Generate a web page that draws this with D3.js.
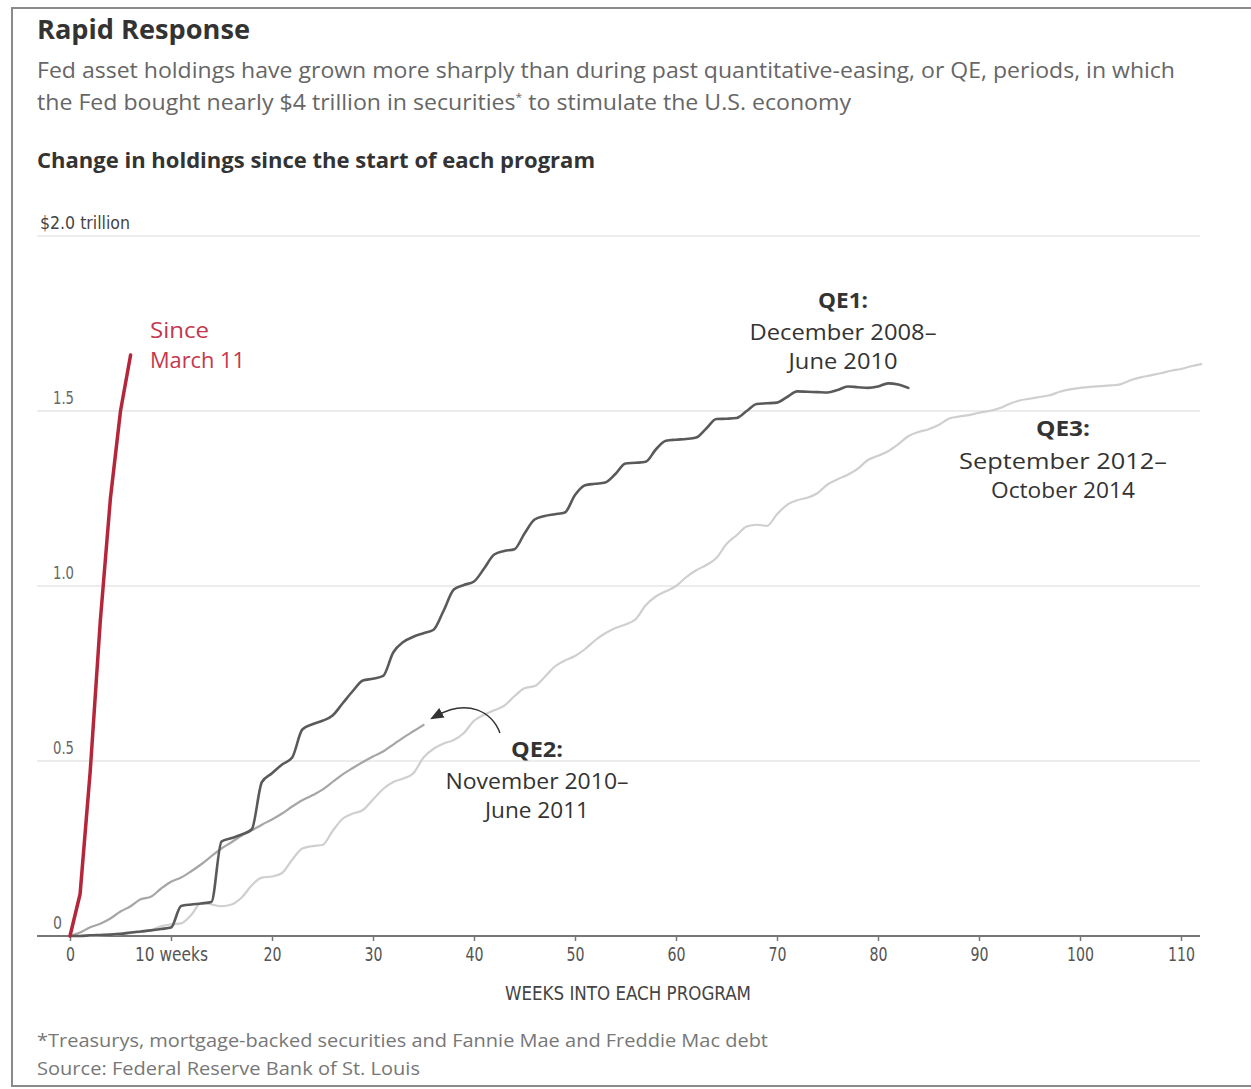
<!DOCTYPE html>
<html>
<head>
<meta charset="utf-8">
<script src="https://cdn.jsdelivr.net/npm/d3@7"></script>
<style>
  html, body { margin: 0; padding: 0; background: #fff; }
  svg { display: block; }
</style>
</head>
<body>
<svg id="chart" width="1251" height="1089"></svg>
<script>
// ---------- DATA (values indexed by week number) ----------
const sinceMarch11 = [0, 0.12, 0.47, 0.9, 1.25, 1.5, 1.66];

const qe1 = [0, 0, 0.002, 0.003, 0.004, 0.006, 0.01, 0.013, 0.016, 0.02,
  0.024, 0.086, 0.09, 0.093, 0.097, 0.27, 0.28, 0.29, 0.305, 0.44,
  0.465, 0.49, 0.51, 0.59, 0.605, 0.615, 0.63, 0.665, 0.7, 0.73,
  0.735, 0.743, 0.81, 0.84, 0.855, 0.865, 0.875, 0.93, 0.99, 1.003,
  1.013, 1.05, 1.09, 1.1, 1.105, 1.15, 1.19, 1.2, 1.205, 1.21,
  1.26, 1.288, 1.292, 1.296, 1.32, 1.35, 1.352, 1.355, 1.39, 1.415,
  1.418, 1.42, 1.424, 1.45, 1.477, 1.478, 1.48, 1.5, 1.52, 1.522,
  1.524, 1.54, 1.556, 1.555, 1.554, 1.553, 1.56, 1.57, 1.568, 1.566,
  1.57, 1.579, 1.576, 1.566];

const qe2 = [0, 0.01, 0.025, 0.035, 0.05, 0.07, 0.085, 0.105, 0.112, 0.135,
  0.155, 0.167, 0.185, 0.205, 0.228, 0.25, 0.268, 0.287, 0.302, 0.318,
  0.333, 0.35, 0.37, 0.388, 0.402, 0.418, 0.44, 0.462, 0.48, 0.497,
  0.513, 0.527, 0.547, 0.567, 0.585, 0.603];

const qe3 = [0, 0, 0, 0.002, 0.003, 0.005, 0.008, 0.012, 0.016, 0.028,
  0.033, 0.036, 0.06, 0.095, 0.09, 0.085, 0.09, 0.11, 0.145, 0.167,
  0.17, 0.18, 0.218, 0.25, 0.257, 0.26, 0.3, 0.335, 0.35, 0.36,
  0.39, 0.42, 0.44, 0.45, 0.465, 0.51, 0.535, 0.55, 0.56, 0.58,
  0.615, 0.632, 0.645, 0.658, 0.685, 0.708, 0.714, 0.74, 0.77, 0.787,
  0.8, 0.82, 0.845, 0.865, 0.88, 0.89, 0.905, 0.945, 0.97, 0.985,
  1.0, 1.025, 1.045, 1.06, 1.08, 1.12, 1.145, 1.17, 1.175, 1.172,
  1.205, 1.232, 1.245, 1.252, 1.265, 1.29, 1.305, 1.318, 1.335, 1.36,
  1.372, 1.385, 1.405, 1.428, 1.44, 1.448, 1.46, 1.478, 1.484, 1.488,
  1.495, 1.5, 1.508, 1.52, 1.53, 1.535, 1.54, 1.545, 1.555, 1.562,
  1.566, 1.569, 1.571, 1.573, 1.576, 1.588, 1.596, 1.602, 1.608, 1.615,
  1.62, 1.628, 1.634];

const xTicks = [0, 10, 20, 30, 40, 50, 60, 70, 80, 90, 100, 110];
const xTickLabels = ["0", "10 weeks", "20", "30", "40", "50", "60", "70", "80", "90", "100", "110"];
const yTicks = [0, 0.5, 1.0, 1.5, 2.0];
const yTickLabels = ["0", "0.5", "1.0", "1.5", "$2.0 trillion"];

// ---------- LAYOUT ----------
const svg = d3.select("#chart");
const narrow = "'Liberation Sans Narrow', 'DejaVu Sans Condensed', 'Roboto Condensed', sans-serif";
const sans = "'Open Sans', 'Noto Sans', 'Lato', sans-serif";

const x = d3.scaleLinear().domain([0, 110]).range([70, 1181]);
const y = d3.scaleLinear().domain([0, 2]).range([936, 236]);
const gridLeft = 37, gridRight = 1200;

// frame
svg.append("rect").attr("x", 12).attr("y", 8).attr("width", 1260).attr("height", 1078)
  .attr("fill", "none").attr("stroke", "#8a8a8a").attr("stroke-width", 2);

// Titles
svg.append("text").attr("x", 37).attr("y", 39)
  .attr("font-family", sans).attr("font-weight", 700).attr("font-size", 26)
  .attr("fill", "#333").attr("textLength", 213).attr("lengthAdjust", "spacingAndGlyphs")
  .text("Rapid Response");

svg.append("text").attr("x", 37).attr("y", 78)
  .attr("font-family", sans).attr("font-size", 21).attr("fill", "#666")
  .attr("textLength", 1138).attr("lengthAdjust", "spacingAndGlyphs")
  .text("Fed asset holdings have grown more sharply than during past quantitative-easing, or QE, periods, in which");

const sub2 = svg.append("text").attr("x", 37).attr("y", 110)
  .attr("font-family", sans).attr("font-size", 21).attr("fill", "#666");
sub2.append("tspan").text("the Fed bought nearly $4 trillion in securities");
sub2.append("tspan").attr("font-size", 11).attr("dy", -9).text("*");
sub2.append("tspan").attr("dy", 9).text(" to stimulate the U.S. economy");
sub2.attr("textLength", 814).attr("lengthAdjust", "spacingAndGlyphs");

svg.append("text").attr("x", 37).attr("y", 168)
  .attr("font-family", sans).attr("font-weight", 700).attr("font-size", 21)
  .attr("fill", "#333").attr("textLength", 558).attr("lengthAdjust", "spacingAndGlyphs")
  .text("Change in holdings since the start of each program");

// Gridlines
svg.append("g").selectAll("line").data(yTicks.filter(d => d > 0)).join("line")
  .attr("x1", gridLeft).attr("x2", gridRight)
  .attr("y1", d => y(d)).attr("y2", d => y(d))
  .attr("stroke", "#e6e6e6").attr("stroke-width", 1.5);

// Y labels
svg.append("g").selectAll("text").data(yTicks).join("text")
  .attr("x", (d, i) => i === yTicks.length - 1 ? 40 : 53)
  .attr("y", d => y(d) - 7)
  .attr("font-family", narrow).attr("font-size", 18)
  .attr("fill", (d, i) => i === yTicks.length - 1 ? "#444" : "#666")
  .each(function (d, i) {
    const t = d3.select(this).text(yTickLabels[i]);
    const L = yTickLabels[i];
    t.attr("textLength", i === yTicks.length - 1 ? 90 : (L.length === 1 ? 9 : 21))
     .attr("lengthAdjust", "spacingAndGlyphs");
  });

// X axis
const xAxis = d3.axisBottom(x).tickValues(xTicks).tickSize(5)
  .tickFormat((d, i) => xTickLabels[i]);
const gx = svg.append("g").attr("transform", `translate(0,${y(0)})`).call(xAxis);
gx.select(".domain").remove();
gx.selectAll(".tick line").attr("stroke", "#777").attr("stroke-width", 1.5);
gx.selectAll(".tick text").attr("font-family", narrow).attr("font-size", 19)
  .attr("fill", "#555").attr("y", 12).attr("dy", "0.71em")
  .attr("textLength", (d, i) => xTickLabels[i] === "10 weeks" ? 73 : 9 * xTickLabels[i].length)
  .attr("lengthAdjust", "spacingAndGlyphs");
svg.append("line").attr("x1", gridLeft).attr("x2", gridRight)
  .attr("y1", y(0)).attr("y2", y(0)).attr("stroke", "#777").attr("stroke-width", 2);

svg.append("text").attr("x", 628).attr("y", 1000).attr("text-anchor", "middle")
  .attr("font-family", narrow).attr("font-size", 19).attr("fill", "#444")
  .attr("textLength", 246).attr("lengthAdjust", "spacingAndGlyphs")
  .text("WEEKS INTO EACH PROGRAM");

// Lines
const line = d3.line().x((d, i) => x(i)).y(d => y(d)).curve(d3.curveMonotoneX);
const lineStraight = d3.line().x((d, i) => x(i)).y(d => y(d));
const g = svg.append("g").attr("fill", "none").attr("stroke-linejoin", "round").attr("stroke-linecap", "round");
g.append("path").datum(qe3).attr("d", line).attr("stroke", "#cfcfcf").attr("stroke-width", 2.2);
g.append("path").datum(qe2).attr("d", line).attr("stroke", "#a6a6a6").attr("stroke-width", 2.2);
g.append("path").datum(qe1).attr("d", line).attr("stroke", "#5a5a5a").attr("stroke-width", 2.6);
g.append("path").datum(sinceMarch11).attr("d", lineStraight).attr("stroke", "#b5263b").attr("stroke-width", 3.5);

// Labels
function label(lines, cx, baselines, widths, color, anchor) {
  lines.forEach((t, i) => {
    svg.append("text").attr("x", cx).attr("y", baselines[i])
      .attr("text-anchor", anchor || "middle")
      .attr("font-family", sans).attr("font-size", 22)
      .attr("font-weight", (i === 0 && t.startsWith("QE")) ? 700 : 400)
      .attr("fill", color)
      .attr("textLength", widths[i]).attr("lengthAdjust", "spacingAndGlyphs")
      .text(t);
  });
}
label(["Since", "March 11"], 150, [338, 368], [59, 95], "#c4374d", "start");
label(["QE1:", "December 2008–", "June 2010"], 843, [308, 340, 369], [50, 187, 109], "#333");
label(["QE3:", "September 2012–", "October 2014"], 1063, [436, 469, 498], [54, 208, 144], "#333");
label(["QE2:", "November 2010–", "June 2011"], 537, [757, 789, 818], [52, 183, 104], "#333");

// Arrow for QE2
svg.append("defs").append("marker").attr("id", "ah").attr("viewBox", "0 0 10 10")
  .attr("refX", 5).attr("refY", 5).attr("markerWidth", 9).attr("markerHeight", 9)
  .attr("orient", "auto")
  .append("path").attr("d", "M0,1 L10,5 L0,9 Z").attr("fill", "#333");
svg.append("path").attr("d", "M500,733 C492,712 468,698 436,716")
  .attr("fill", "none").attr("stroke", "#333").attr("stroke-width", 1.5)
  .attr("marker-end", "url(#ah)");

// Footer
svg.append("text").attr("x", 37).attr("y", 1047)
  .attr("font-family", sans).attr("font-size", 19).attr("fill", "#777")
  .attr("textLength", 731).attr("lengthAdjust", "spacingAndGlyphs")
  .text("*Treasurys, mortgage-backed securities and Fannie Mae and Freddie Mac debt");
svg.append("text").attr("x", 37).attr("y", 1075)
  .attr("font-family", sans).attr("font-size", 19).attr("fill", "#777")
  .attr("textLength", 383).attr("lengthAdjust", "spacingAndGlyphs")
  .text("Source: Federal Reserve Bank of St. Louis");
</script>
</body>
</html>
